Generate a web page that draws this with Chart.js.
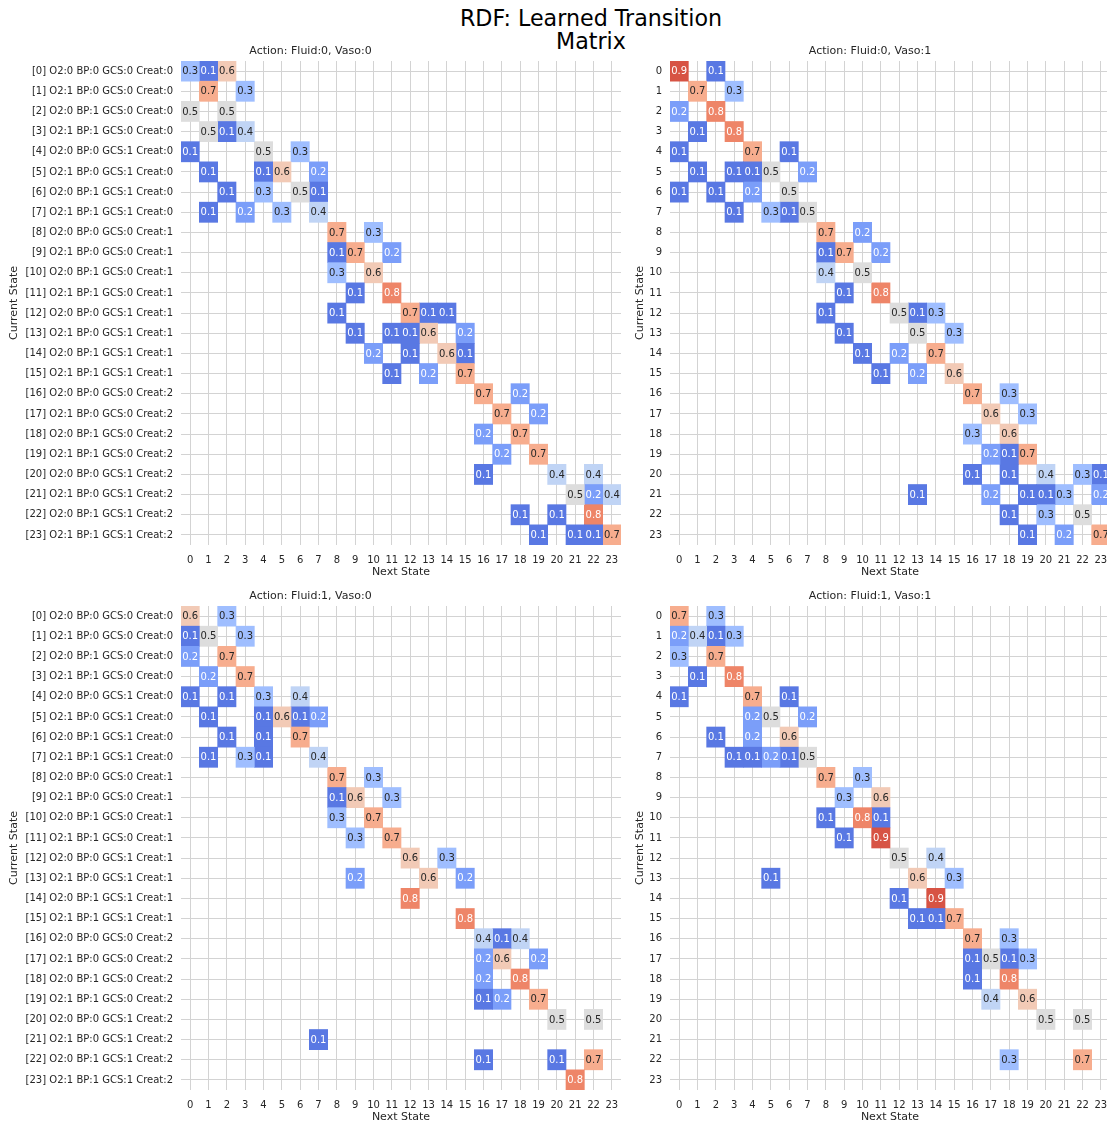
<!DOCTYPE html>
<html><head><meta charset="utf-8">
<script src="https://cdn.jsdelivr.net/npm/chart.js@4.4.1/dist/chart.umd.min.js"></script>
<style>
html,body{margin:0;padding:0;background:#fff;overflow:hidden;width:1107px;height:1126px;}
#title{position:absolute;left:0;top:7px;width:1182px;text-align:center;font-family:"DejaVu Sans";font-size:22.2px;line-height:23px;color:#000;}
canvas{position:absolute;}
</style></head><body>
<div id="title">RDF: Learned Transition<br>Matrix</div>
<canvas id="c00" width="630" height="545" style="left:0px;top:36px"></canvas>
<canvas id="c01" width="490" height="545" style="left:630px;top:36px"></canvas>
<canvas id="c10" width="630" height="545" style="left:0px;top:581px"></canvas>
<canvas id="c11" width="490" height="545" style="left:630px;top:581px"></canvas>
<script>
// ---- data ----
const stateLabels = [
 "[0] O2:0 BP:0 GCS:0 Creat:0","[1] O2:1 BP:0 GCS:0 Creat:0","[2] O2:0 BP:1 GCS:0 Creat:0","[3] O2:1 BP:1 GCS:0 Creat:0",
 "[4] O2:0 BP:0 GCS:1 Creat:0","[5] O2:1 BP:0 GCS:1 Creat:0","[6] O2:0 BP:1 GCS:1 Creat:0","[7] O2:1 BP:1 GCS:1 Creat:0",
 "[8] O2:0 BP:0 GCS:0 Creat:1","[9] O2:1 BP:0 GCS:0 Creat:1","[10] O2:0 BP:1 GCS:0 Creat:1","[11] O2:1 BP:1 GCS:0 Creat:1",
 "[12] O2:0 BP:0 GCS:1 Creat:1","[13] O2:1 BP:0 GCS:1 Creat:1","[14] O2:0 BP:1 GCS:1 Creat:1","[15] O2:1 BP:1 GCS:1 Creat:1",
 "[16] O2:0 BP:0 GCS:0 Creat:2","[17] O2:1 BP:0 GCS:0 Creat:2","[18] O2:0 BP:1 GCS:0 Creat:2","[19] O2:1 BP:1 GCS:0 Creat:2",
 "[20] O2:0 BP:0 GCS:1 Creat:2","[21] O2:1 BP:0 GCS:1 Creat:2","[22] O2:0 BP:1 GCS:1 Creat:2","[23] O2:1 BP:1 GCS:1 Creat:2"];
const indexLabels = ["0","1","2","3","4","5","6","7","8","9","10","11","12","13","14","15","16","17","18","19","20","21","22","23"];
const nextStateTicks = [0,1,2,3,4,5,6,7,8,9,10,11,12,13,14,15,16,17,18,19,20,21,22,23];
const actionTitles = ["Action: Fluid:0, Vaso:0","Action: Fluid:0, Vaso:1","Action: Fluid:1, Vaso:0","Action: Fluid:1, Vaso:1"];

// each row: list of [nextState, probability]
const fluid0Vaso0 = [
 [[0,0.3],[1,0.1],[2,0.6]],
 [[1,0.7],[3,0.3]],
 [[0,0.5],[2,0.5]],
 [[1,0.5],[2,0.1],[3,0.4]],
 [[0,0.1],[4,0.5],[6,0.3]],
 [[1,0.1],[4,0.1],[5,0.6],[7,0.2]],
 [[2,0.1],[4,0.3],[6,0.5],[7,0.1]],
 [[1,0.1],[3,0.2],[5,0.3],[7,0.4]],
 [[8,0.7],[10,0.3]],
 [[8,0.1],[9,0.7],[11,0.2]],
 [[8,0.3],[10,0.6]],
 [[9,0.1],[11,0.8]],
 [[8,0.1],[12,0.7],[13,0.1],[14,0.1]],
 [[9,0.1],[11,0.1],[12,0.1],[13,0.6],[15,0.2]],
 [[10,0.2],[12,0.1],[14,0.6],[15,0.1]],
 [[11,0.1],[13,0.2],[15,0.7]],
 [[16,0.7],[18,0.2]],
 [[17,0.7],[19,0.2]],
 [[16,0.2],[18,0.7]],
 [[17,0.2],[19,0.7]],
 [[16,0.1],[20,0.4],[22,0.4]],
 [[21,0.5],[22,0.2],[23,0.4]],
 [[18,0.1],[20,0.1],[22,0.8]],
 [[19,0.1],[21,0.1],[22,0.1],[23,0.7]]
];
const fluid0Vaso1 = [
 [[0,0.9],[2,0.1]],
 [[1,0.7],[3,0.3]],
 [[0,0.2],[2,0.8]],
 [[1,0.1],[3,0.8]],
 [[0,0.1],[4,0.7],[6,0.1]],
 [[1,0.1],[3,0.1],[4,0.1],[5,0.5],[7,0.2]],
 [[0,0.1],[2,0.1],[4,0.2],[6,0.5]],
 [[3,0.1],[5,0.3],[6,0.1],[7,0.5]],
 [[8,0.7],[10,0.2]],
 [[8,0.1],[9,0.7],[11,0.2]],
 [[8,0.4],[10,0.5]],
 [[9,0.1],[11,0.8]],
 [[8,0.1],[12,0.5],[13,0.1],[14,0.3]],
 [[9,0.1],[13,0.5],[15,0.3]],
 [[10,0.1],[12,0.2],[14,0.7]],
 [[11,0.1],[13,0.2],[15,0.6]],
 [[16,0.7],[18,0.3]],
 [[17,0.6],[19,0.3]],
 [[16,0.3],[18,0.6]],
 [[17,0.2],[18,0.1],[19,0.7]],
 [[16,0.1],[18,0.1],[20,0.4],[22,0.3],[23,0.1]],
 [[13,0.1],[17,0.2],[19,0.1],[20,0.1],[21,0.3],[23,0.2]],
 [[18,0.1],[20,0.3],[22,0.5]],
 [[19,0.1],[21,0.2],[23,0.7]]
];
const fluid1Vaso0 = [
 [[0,0.6],[2,0.3]],
 [[0,0.1],[1,0.5],[3,0.3]],
 [[0,0.2],[2,0.7]],
 [[1,0.2],[3,0.7]],
 [[0,0.1],[2,0.1],[4,0.3],[6,0.4]],
 [[1,0.1],[4,0.1],[5,0.6],[6,0.1],[7,0.2]],
 [[2,0.1],[4,0.1],[6,0.7]],
 [[1,0.1],[3,0.3],[4,0.1],[7,0.4]],
 [[8,0.7],[10,0.3]],
 [[8,0.1],[9,0.6],[11,0.3]],
 [[8,0.3],[10,0.7]],
 [[9,0.3],[11,0.7]],
 [[12,0.6],[14,0.3]],
 [[9,0.2],[13,0.6],[15,0.2]],
 [[12,0.8]],
 [[15,0.8]],
 [[16,0.4],[17,0.1],[18,0.4]],
 [[16,0.2],[17,0.6],[19,0.2]],
 [[16,0.2],[18,0.8]],
 [[16,0.1],[17,0.2],[19,0.7]],
 [[20,0.5],[22,0.5]],
 [[7,0.1]],
 [[16,0.1],[20,0.1],[22,0.7]],
 [[21,0.8]]
];
const fluid1Vaso1 = [
 [[0,0.7],[2,0.3]],
 [[0,0.2],[1,0.4],[2,0.1],[3,0.3]],
 [[0,0.3],[2,0.7]],
 [[1,0.1],[3,0.8]],
 [[0,0.1],[4,0.7],[6,0.1]],
 [[4,0.2],[5,0.5],[7,0.2]],
 [[2,0.1],[4,0.2],[6,0.6]],
 [[3,0.1],[4,0.1],[5,0.2],[6,0.1],[7,0.5]],
 [[8,0.7],[10,0.3]],
 [[9,0.3],[11,0.6]],
 [[8,0.1],[10,0.8],[11,0.1]],
 [[9,0.1],[11,0.9]],
 [[12,0.5],[14,0.4]],
 [[5,0.1],[13,0.6],[15,0.3]],
 [[12,0.1],[14,0.9]],
 [[13,0.1],[14,0.1],[15,0.7]],
 [[16,0.7],[18,0.3]],
 [[16,0.1],[17,0.5],[18,0.1],[19,0.3]],
 [[16,0.1],[18,0.8]],
 [[17,0.4],[19,0.6]],
 [[20,0.5],[22,0.5]],
 [],
 [[18,0.3],[22,0.7]],
 []
];

// ---- styling ----
const CW = [[59,76,192],[68,90,204],[77,104,215],[87,117,225],[98,130,234],[108,142,241],[119,154,247],[130,165,251],
 [141,176,254],[152,185,255],[163,194,255],[174,201,253],[184,208,249],[194,213,244],[204,217,238],[213,219,230],
 [221,221,221],[229,216,209],[236,211,197],[241,204,184],[245,196,172],[247,187,159],[247,177,147],[247,166,134],
 [244,154,123],[241,141,111],[236,127,99],[229,112,88],[222,96,77],[213,80,66],[203,62,56],[192,40,47],[180,4,38]];
function coolwarmRGB(v){
  v=Math.max(0,Math.min(1,v));
  const f=v*32, i=Math.min(31,Math.floor(f)), t=f-i;
  return CW[i].map((a,k)=>a+(CW[i+1][k]-a)*t);
}
function rgbStr(c){return 'rgb('+c.map(x=>Math.round(x)).join(',')+')';}
function textColor(v){
  const c=coolwarmRGB(v).map(x=>{x/=255;return x<=0.03928?x/12.92:Math.pow((x+0.055)/1.055,2.4);});
  const lum=0.2126*c[0]+0.7152*c[1]+0.0722*c[2];
  return lum>0.408?'#262626':'#ffffff';
}
const FONT='DejaVu Sans';
Chart.defaults.font.family=FONT;
Chart.defaults.color='#262626';
const GRID='#d3d3d3';

function buildDatasets(rows){
  const ds=[];
  for(const c of nextStateTicks){
    const data=[],bg=[],probs=[];let any=false;
    rows.forEach(cells=>{
      const cell=cells.find(e=>e[0]===c);
      if(cell){data.push([c-0.5,c+0.5]);bg.push(rgbStr(coolwarmRGB(cell[1])));probs.push(cell[1]);any=true;}
      else{data.push(null);bg.push('rgba(0,0,0,0)');probs.push(null);}
    });
    if(any) ds.push({data,backgroundColor:bg,probs,borderWidth:0,grouped:false,categoryPercentage:1,barPercentage:1});
  }
  return ds;
}

const cellText={id:'cellText',afterDatasetsDraw(chart){
  const ctx=chart.ctx;ctx.save();
  ctx.font='10px "'+FONT+'"';ctx.textAlign='center';ctx.textBaseline='middle';
  chart.data.datasets.forEach((d,i)=>{
    chart.getDatasetMeta(i).data.forEach((el,j)=>{
      const v=d.probs[j];if(v==null)return;
      const p=el.getCenterPoint();
      ctx.fillStyle=textColor(v);
      ctx.fillText(v.toFixed(1),p.x,p.y+0.5);
    });
  });
  ctx.restore();
}};

function makeChart(id,rows,title,yLabels,yWidth,yTitlePad,padRight){
  new Chart(document.getElementById(id),{
    type:'bar',
    data:{labels:yLabels,datasets:buildDatasets(rows)},
    plugins:[cellText],
    options:{
      indexAxis:'y',responsive:false,animation:false,
      layout:{padding:{left:0,right:padRight,top:0,bottom:0}},
      plugins:{legend:{display:false},tooltip:{enabled:false},
        title:{display:true,text:title,font:{size:11,weight:'normal'},color:'#262626',padding:{top:8.4,bottom:3.4}}},
      scales:{
        x:{type:'linear',min:-0.5,max:23.5,
          afterBuildTicks:s=>{s.ticks=nextStateTicks.map(v=>({value:v}));},
          afterFit:s=>{s.height=36;},
          ticks:{autoSkip:false,maxRotation:0,font:{size:10},color:'#262626',padding:9,callback:v=>String(v)},
          grid:{color:GRID,lineWidth:1,drawTicks:false},border:{display:false},
          title:{display:true,text:'Next State',font:{size:11},color:'#262626',padding:{top:0,bottom:2}}},
        y:{type:'category',offset:true,
          afterFit:s=>{s.width=yWidth;},
          ticks:{autoSkip:false,font:{size:10},color:'#262626',padding:8},
          grid:{offset:false,color:GRID,lineWidth:1,drawTicks:false},border:{display:false},
          title:{display:true,text:'Current State',font:{size:11},color:'#262626',padding:{top:yTitlePad,bottom:0}}}
      }
    }
  });
}
makeChart('c00',fluid0Vaso0,actionTitles[0],stateLabels,181,7.4,9);
makeChart('c01',fluid0Vaso1,actionTitles[1],indexLabels,40,3.4,10);
makeChart('c10',fluid1Vaso0,actionTitles[2],stateLabels,181,7.4,9);
makeChart('c11',fluid1Vaso1,actionTitles[3],indexLabels,40,3.4,10);
</script>
</body></html>
